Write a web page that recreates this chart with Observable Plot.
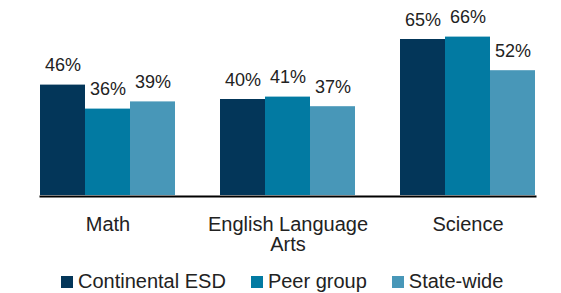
<!DOCTYPE html>
<html>
<head>
<meta charset="utf-8">
<script src="https://cdn.jsdelivr.net/npm/d3@7"></script>
<script src="https://cdn.jsdelivr.net/npm/@observablehq/plot@0.6"></script>
<style>
  body { margin: 0; background: #fff; font-family: "Liberation Sans", Arial, sans-serif; }
  #chart svg { display: block; }
  .lg-swatches { margin-left: 61px; margin-top: 5px; }
  .lg-swatch { margin-right: 25px !important; }
  .lg-swatch > svg { margin-right: 5px !important; }
</style>
</head>
<body>
<div id="chart"></div>
<script>
const subjects = ["Math", "English Language Arts", "Science"];
const subjectLabels = ["Math", "English Language\nArts", "Science"];
const series = ["Continental ESD", "Peer group", "State-wide"];
const continentalESD = [46, 40, 65];
const peerGroup = [36, 41, 66];
const stateWide = [39, 37, 52];
const colors = ["#033659", "#027aa2", "#4897b8"];

const seriesValues = [continentalESD, peerGroup, stateWide];
const data = [];
subjects.forEach((s, i) => {
  series.forEach((g, j) => {
    data.push({subject: s, series: g, value: seriesValues[j][i]});
  });
});

const labelMap = new Map(subjects.map((s, i) => [s, subjectLabels[i]]));

const chart = Plot.plot({
  width: 561,
  height: 260,
  marginTop: 3,
  marginBottom: 65,
  marginLeft: 16,
  marginRight: 3,
  style: {fontFamily: "Liberation Sans, Arial, sans-serif", color: "#222", background: "#fff"},
  fx: {domain: subjects, paddingInner: 0.25, paddingOuter: 0.125},
  x: {domain: series, padding: 0, axis: null},
  y: {domain: [0, 80], axis: null},
  color: {domain: series, range: colors},
  marks: [
    Plot.barY(data, {fx: "subject", x: "series", y: "value", fill: "series"}),
    Plot.text(data, {fx: "subject", x: "series", y: "value", text: d => d.value + "%",
      lineAnchor: "bottom", dy: -14, fontSize: 18, fill: "#222"}),
    Plot.frame({anchor: "bottom", facet: "super", stroke: "#000", strokeWidth: 2, dy: 1}),
    Plot.axisFx({anchor: "bottom", tickSize: 0, tickPadding: 21, fontSize: 20,
      lineHeight: 1, tickFormat: d => labelMap.get(d), label: null, fill: "#222"})
  ]
});

const legend = Plot.legend({
  color: {domain: series, range: colors},
  swatchSize: 12,
  className: "lg",
  style: {fontSize: "20px", fontFamily: "Liberation Sans, Arial, sans-serif", color: "#222"}
});

const root = document.getElementById("chart");
root.appendChild(chart);
root.appendChild(legend);
</script>
</body>
</html>
